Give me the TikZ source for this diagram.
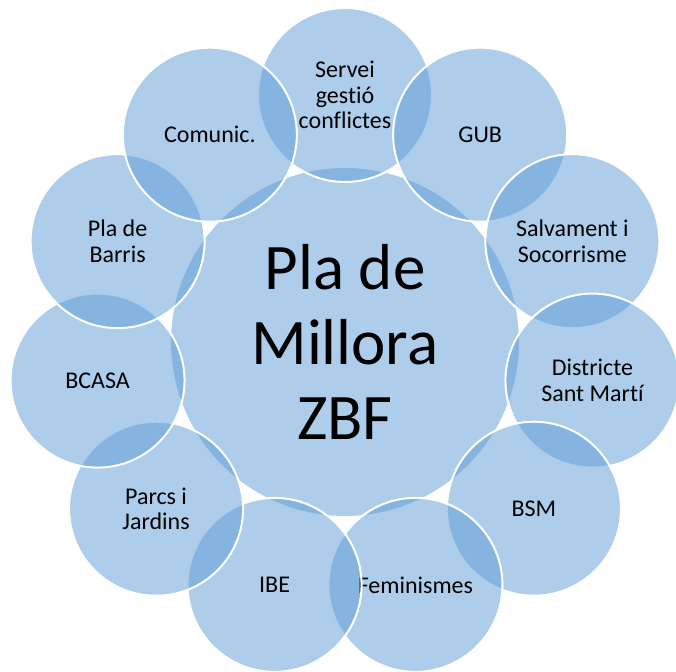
\documentclass[tikz,border=0pt]{standalone}
\usepackage{fontspec}
\setmainfont{Carlito}[Ligatures=NoCommon]
\usetikzlibrary{calc}
\definecolor{accent}{HTML}{5B9BD5}
\begin{document}
\begin{tikzpicture}[x=1pt,y=1pt,
  bubble/.style={circle, inner sep=0pt, minimum size=174pt, fill=accent,
    fill opacity=0.5, text opacity=1, draw=white, draw opacity=1,
    line width=2pt, align=center, font=\fontsize{24}{25.5}\selectfont},
  hub/.style={bubble, minimum size=350pt, font=\fontsize{65}{75}\selectfont}]
\useasboundingbox (0,0) rectangle (676,-671);
\clip (0,0) rectangle (676,-671);
\coordinate (c) at (345,-345);
\node[hub] (hub) at ($(c)+(0,3)$) {Pla de\\Millora\\ZBF};
\node[bubble] (s1) at ($(c)+({90-0*360/11}:250)$) {Servei\\gestió\\conflictes};
\node[bubble] (s2) at ($(c)+({90-1*360/11}:250)$) {GUB};
\node[bubble] (s3) at ($(c)+({90-2*360/11}:250)$) {Salvament i\\Socorrisme};
\node[bubble] (s4) at ($(c)+({90-3*360/11}:250)$) {Districte\\Sant Martí};
\node[bubble] (s5) at ($(c)+({90-4*360/11}:250)$) {BSM};
\node[bubble] (s6) at ($(c)+({90-5*360/11}:250)$) {Feminismes};
\node[bubble] (s7) at ($(c)+({90-6*360/11}:250)$) {IBE};
\node[bubble] (s8) at ($(c)+({90-7*360/11}:250)$) {Parcs i\\Jardins};
\node[bubble] (s9) at ($(c)+({90-8*360/11}:250)$) {BCASA};
\node[bubble] (s10) at ($(c)+({90-9*360/11}:250)$) {Pla de\\Barris};
\node[bubble] (s11) at ($(c)+({90-10*360/11}:250)$) {Comunic.};
\end{tikzpicture}
\end{document}
